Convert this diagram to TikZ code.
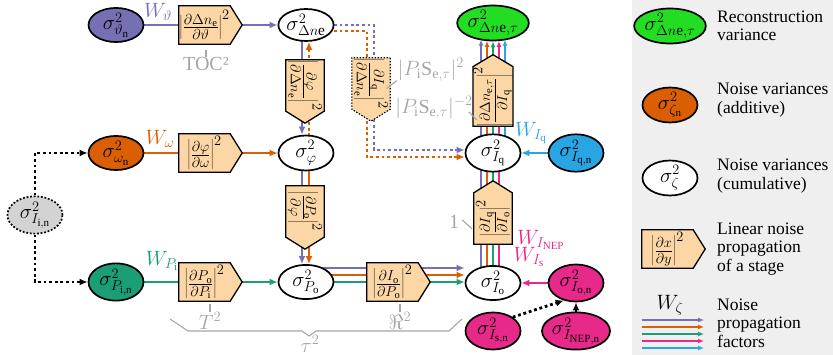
\documentclass[tikz,border=0pt]{standalone}
\usepackage{fontspec}
\setmainfont{Liberation Serif}
\usetikzlibrary{calc,arrows.meta,shapes.geometric}
\pgfdeclarelayer{lines}
\pgfdeclarelayer{bg}
\pgfsetlayers{lines,bg,main}
\definecolor{cpur}{HTML}{7570B3}
\definecolor{cora}{HTML}{D95F02}
\definecolor{cgrn}{HTML}{1B9E77}
\definecolor{cmag}{HTML}{E7298A}
\definecolor{cblu}{HTML}{2AA5E4}
\definecolor{crec}{HTML}{22DD22}
\definecolor{cbox}{HTML}{FCD6A4}
\definecolor{cgry}{HTML}{A6A6A6}
\definecolor{clegbg}{HTML}{EFEFEF}
\definecolor{cgin}{HTML}{D3D3D3}
\tikzset{
  var/.style={ellipse, draw=black, line width=1.7pt, minimum width=55pt, minimum height=32pt, inner sep=0pt, fill=white, font=\fontsize{22}{24}\selectfont},
  stagetxt/.style={rectangle, minimum width=51pt, minimum height=38pt, inner sep=0pt, font=\fontsize{21}{23}\selectfont},
  stageframe/.style={fill=cbox, draw=black, line width=1.3pt, line join=miter},
  conn/.style={line width=2.3pt},
  arr/.style={conn, -{Latex[length=8pt,width=7pt]}},
  sarr/.style={conn, -{Latex[length=6pt,width=5pt]}},
  dotline/.style={line width=2.8pt, dash pattern=on 2.8pt off 2.8pt},
  darr/.style={dotline, -{Latex[length=8pt,width=7pt]}},
  darrk/.style={dotline, black, -{Latex[length=8pt,width=7pt]}},
  wlab/.style={font=\fontsize{22}{24}\selectfont, inner sep=0pt},
  glab/.style={text=cgry, font=\fontsize{20}{22}\selectfont, inner sep=0pt},
  gline/.style={cgry, line width=1.1pt},
  legtxt/.style={align=left, anchor=west, font=\fontsize{17.5}{18.5}\selectfont, inner sep=0pt}
}
\newcommand\stagepent[2][]{%
  \coordinate (#2-tip) at ($(#2.east)!-12pt!(#2.west)$);
  \begin{pgfonlayer}{bg}
  \filldraw[stageframe,#1] (#2.north west) -- (#2.north east) -- (#2-tip) -- (#2.south east) -- (#2.south west) -- cycle;
  \end{pgfonlayer}}
\begin{document}
\begin{tikzpicture}[x=1pt,y=-1pt]
\useasboundingbox (0,0) rectangle (833,355);
\begin{pgfonlayer}{lines}
\fill[clegbg] (632,0) rectangle (833,355);
\end{pgfonlayer}

% variance nodes
\node[var,fill=cpur] (nth) at (116,25) {$\sigma^2_{\vartheta_\mathrm{n}}$};
\node[var] (ndn) at (306,25) {$\sigma^2_{\Delta n\mathrm{e}}$};
\node[var,fill=crec] (nrec) at (493,23) {$\sigma^2_{\Delta n\mathrm{e},\tau}$};
\node[var,fill=cora] (nom) at (116,153) {$\sigma^2_{\omega_\mathrm{n}}$};
\node[var] (nphi) at (306,153) {$\sigma^2_{\varphi}$};
\node[var] (nIq) at (493,153) {$\sigma^2_{I_\mathrm{q}}$};
\node[var,fill=cblu] (nIqn) at (576,153) {$\sigma^2_{I_\mathrm{q,n}}$};
\node[var,fill=cgin,dash pattern=on 1.8pt off 1.8pt] (nIin) at (35,215) {$\sigma^2_{I_\mathrm{i,n}}$};
\node[var,fill=cgrn] (nPin) at (116,282) {$\sigma^2_{P_\mathrm{i,n}}$};
\node[var] (nPo) at (306,282) {$\sigma^2_{P_\mathrm{o}}$};
\node[var] (nIo) at (493,283) {$\sigma^2_{I_\mathrm{o}}$};
\node[var,fill=cmag] (nIon) at (576,283) {$\sigma^2_{I_\mathrm{o,n}}$};
\node[var,fill=cmag] (nIsn) at (493,331) {$\sigma^2_{I_\mathrm{s,n}}$};
\node[var,fill=cmag] (nINEPn) at (576,331) {$\sigma^2_{I_\mathrm{NEP,n}}$};

% stage boxes
\node[stagetxt] (b1) at (204.5,25) {$\left|\frac{\partial\Delta n_\mathrm{e}}{\partial\vartheta}\right|^2$};
\stagepent{b1}
\node[stagetxt] (b2) at (204.5,153) {$\left|\frac{\partial\varphi}{\partial\omega}\right|^2$};
\stagepent{b2}
\node[stagetxt] (b3) at (204.5,282) {$\left|\frac{\partial P_\mathrm{o}}{\partial P_\mathrm{i}}\right|^2$};
\stagepent{b3}
\node[stagetxt,rotate=-90] (b4) at (305,85.5) {$\left|\frac{\partial\varphi}{\partial\Delta n_\mathrm{e}}\right|^2$};
\stagepent{b4}
\node[stagetxt,rotate=-90] (b5) at (305,211.5) {$\left|\frac{\partial P_\mathrm{o}}{\partial\varphi}\right|^2$};
\stagepent{b5}
\node[stagetxt] (b6) at (392.5,282) {$\left|\frac{\partial I_\mathrm{o}}{\partial P_\mathrm{o}}\right|^2$};
\stagepent{b6}
\node[stagetxt,rotate=-90] (b7) at (371,83.5) {$\left|\frac{\partial I_\mathrm{q}}{\partial\Delta n_\mathrm{e}}\right|^2$};
\stagepent[dash pattern=on 1.5pt off 1.5pt,line width=1.1pt]{b7}
\node[stagetxt,rotate=90] (b8) at (493,96.5) {$\left|\frac{\partial\Delta n_{\mathrm{e},\tau}}{\partial I_\mathrm{q}}\right|^2$};
\stagepent{b8}
\node[stagetxt,rotate=90] (b9) at (493,218.5) {$\left|\frac{\partial I_\mathrm{q}}{\partial I_\mathrm{o}}\right|^2$};
\stagepent{b9}

% connectors
\begin{pgfonlayer}{lines}
\draw[conn,cpur] (nth.east) -- (b1.west);
\draw[arr,cpur] (b1-tip) -- (ndn.west);
\draw[arr,cpur] ([xshift=-4pt]ndn.center) -- ([xshift=-4pt]nphi.north);
\draw[arr,cpur] ([xshift=-4pt]nphi.center) -- ([xshift=-4pt]nPo.north);
\draw[conn,cora] (nom.east) -- (b2.west);
\draw[arr,cora] (b2-tip) -- (nphi.west);
\draw[darr,cora] ([xshift=3pt]nphi.center) -- ([xshift=3pt]ndn.south);
\draw[arr,cora] ([xshift=3pt]nphi.center) -- ([xshift=3pt]nPo.north);
\draw[conn,cgrn] (nPin.east) -- (b3.west);
\draw[arr,cgrn] (b3-tip) -- (nPo.west);
\draw[arr,cpur] ([yshift=14pt]nPo.center) -- ([yshift=15pt]nIo.west);
\draw[arr,cora] ([yshift=7pt]nPo.center) -- ([yshift=8pt]nIo.west);
\draw[arr,cgrn] ([yshift=0pt]nPo.center) -- ([yshift=1pt]nIo.west);
\draw[darr,cpur] (ndn.center) -| ($(b7.center)+(3,0)$) |- ([yshift=3pt]nIq.west);
\draw[darr,cora] ([yshift=-6pt]ndn.center) -| ($(b7.center)+(-4,0)$) |- ([yshift=-4pt]nIq.west);
\foreach \dx/\c in {-12/cpur,-6/cora,0/cgrn,6/cmag}
  \draw[conn,\c] ([xshift=\dx pt]nIo.center) -- ([xshift=\dx pt]nIq.center);
\foreach \dx/\c/\dy in {-12/cpur/1.6,-6/cora/0.4,0/cgrn/0,6/cmag/0.4,12/cblu/1.6}
  \draw[sarr,\c] ([xshift=\dx pt]nIq.center) -- ([xshift=\dx pt,yshift=\dy pt]nrec.south);
\draw[arr,cblu] (nIqn.west) -- (nIq.east);
\draw[arr,cmag] (nIon.west) -- (nIo.east);
\draw[darrk] (nIsn.35) -- (nIon.235);
\draw[darrk] (nINEPn.north) -- (nIon.south);
\draw[darrk] (nIin.north) |- (nom.west);
\draw[darrk] (nIin.south) |- (nPin.west);
\end{pgfonlayer}

% weight labels
\node[wlab,text=cpur] (wth) at (158,12) {$W_\vartheta$};
\node[wlab,text=cora] (wom) at (160,139) {$W_\omega$};
\node[wlab,text=cgrn] (wpi) at (162,261) {$W_{P_\mathrm{i}}$};
\node[wlab,text=cblu] (wiq) at (531,133) {$W_{I_\mathrm{q}}$};
\node[wlab,text=cmag] (winep) at (541,240) {$W_{I_\mathrm{NEP}}$};
\node[wlab,text=cmag] (wis) at (529,257) {$W_{I_\mathrm{s}}$};

% grey annotations
\node[glab] (toc) at (206,64) {TOC²};
\draw[gline] (toc.north) -- ++(0,-7);
\node[glab] (tsq) at (210,321) {$T^2$};
\draw[gline] (tsq.north) -- ++(0,-8);
\node[glab] (rsq) at (400,321) {$\Re^2$};
\draw[gline] (rsq.north) -- ++(0,-8);
\draw[gline,line join=miter] (170,319) -- (188,331) -- (302,331) -- (309,336) -- (316,331) -- (449,331) -- (462,319);
\node[glab] (tau) at (310,344) {$\tau^2$};
\node[glab] (pse1) at (431,70) {$|P_\mathrm{i}\mathrm{S}_{\mathrm{e},\tau}|^2$};
\draw[gline] ([xshift=-1pt,yshift=1pt]pse1.south west) -- ++(-10,8);
\node[glab] (pse2) at (434,108) {$|P_\mathrm{i}\mathrm{S}_{\mathrm{e},\tau}|^{-2}$};
\draw[gline] ([xshift=-4pt,yshift=-4pt]pse2.east) -- ++(8,8);
\node[glab] (one) at (454,222) {1};
\draw[gline] ([xshift=3pt,yshift=2pt]one.east) -- ++(10,9);

% legend
\node[var,fill=crec] (lrec) at (670,26) {$\sigma^2_{\Delta n\mathrm{e},\tau}$};
\node[legtxt] (trec) at (717,26) {Reconstruction\\variance};
\node[var,fill=cora] (ladd) at (670,105) {$\sigma^2_{\zeta_\mathrm{n}}$};
\node[legtxt] (tadd) at (717,100) {Noise variances\\(additive)};
\node[var] (lcum) at (670,178) {$\sigma^2_{\zeta}$};
\node[legtxt] (tcum) at (717,176) {Noise variances\\(cumulative)};
\node[stagetxt] (lbox) at (667.5,249) {$\left|\frac{\partial x}{\partial y}\right|^2$};
\stagepent{lbox}
\node[legtxt] (tbox) at (717,249) {Linear noise\\propagation\\of a stage};
\node[wlab] (lw) at (670,305) {$W_\zeta$};
\foreach \y/\c in {320/cpur,327/cora,334/cgrn,341/cmag,348/cblu}
  \draw[sarr,\c] (642,\y) -- (704,\y);
\node[legtxt] (tw) at (717,323) {Noise\\propagation\\factors};
\end{tikzpicture}
\end{document}
